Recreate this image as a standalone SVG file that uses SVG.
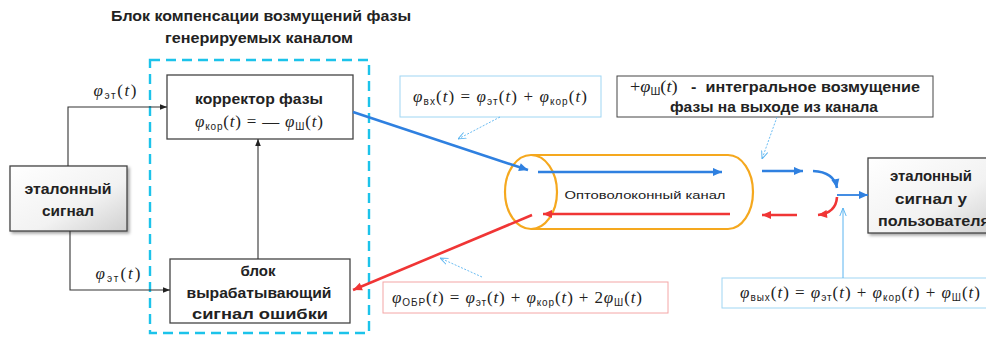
<svg xmlns="http://www.w3.org/2000/svg" width="986" height="338" viewBox="0 0 986 338">
<defs>
<linearGradient id="gg" x1="0" y1="0" x2="1" y2="1">
<stop offset="0" stop-color="#ffffff"/><stop offset="0.6" stop-color="#f2f2f2"/><stop offset="1" stop-color="#d0d0d0"/>
</linearGradient>
<filter id="sh" x="-10%" y="-10%" width="130%" height="140%"><feDropShadow dx="2" dy="2" stdDeviation="1.5" flood-color="#000" flood-opacity="0.35"/></filter>
<marker id="ak" viewBox="0 0 10 10" refX="10" refY="5" markerWidth="7" markerHeight="7" orient="auto" markerUnits="userSpaceOnUse"><path d="M0,1 L10,5 L0,9 Z" fill="#222"/></marker>
<marker id="ab" viewBox="0 0 10 10" refX="10" refY="5" markerWidth="10" markerHeight="9" orient="auto" markerUnits="userSpaceOnUse"><path d="M0,0.5 L10,5 L0,9.5 Z" fill="#2f80e0"/></marker>
<marker id="ar" viewBox="0 0 10 10" refX="10" refY="5" markerWidth="10" markerHeight="9" orient="auto" markerUnits="userSpaceOnUse"><path d="M0,0.5 L10,5 L0,9.5 Z" fill="#f03535"/></marker>
<marker id="ao" viewBox="0 0 10 10" refX="10" refY="5" markerWidth="8" markerHeight="8" orient="auto" markerUnits="userSpaceOnUse"><path d="M0,1 L10,5 L0,9" fill="none" stroke="#5ab4f0" stroke-width="1.2"/></marker>
</defs>
<style>
.t{font-family:"Liberation Sans",Arial,sans-serif;fill:#222}
.b{font-weight:bold}
.f{font-family:"Liberation Serif","Times New Roman",serif;font-size:17px;fill:#222}
.i{font-style:italic}
.s{font-size:10px;font-family:"Liberation Sans",Arial,sans-serif}
.box{fill:#fff;stroke:#444;stroke-width:1.3}
.gbox{fill:url(#gg);stroke:#444;stroke-width:1.3;filter:url(#sh)}
.ln{fill:none;stroke:#333;stroke-width:1.1}
.bl{fill:none;stroke:#2f80e0;stroke-width:2.6}
.rd{fill:none;stroke:#f03535;stroke-width:2.6}
.dt{fill:none;stroke:#5ab4f0;stroke-width:0.9;stroke-dasharray:2 1.5}
</style>

<g id="title">
<text class="t b" x="261" y="21" font-size="14" text-anchor="middle" textLength="300" lengthAdjust="spacingAndGlyphs" fill="#333">Блок компенсации возмущений фазы</text>
<text class="t b" x="259" y="43" font-size="14" text-anchor="middle" textLength="188" lengthAdjust="spacingAndGlyphs" fill="#333">генерируемых каналом</text>
</g>

<g id="compensation-block">
<rect x="150" y="60" width="219" height="273" fill="none" stroke="#1cc3ea" stroke-width="2.4" stroke-dasharray="10 6"/>
</g>

<g id="corrector">
<rect class="box" x="167" y="75" width="186" height="64"/>
<text class="t b" x="259" y="104" font-size="15" text-anchor="middle" textLength="128" lengthAdjust="spacingAndGlyphs">корректор фазы</text>
<text class="f" x="259" y="127" text-anchor="middle" textLength="128" lengthAdjust="spacing"><tspan class="i">φ</tspan><tspan class="s" dy="3">кор</tspan><tspan dy="-3">(</tspan><tspan class="i">t</tspan>) = — <tspan class="i">φ</tspan><tspan class="s" dy="3">Ш</tspan><tspan dy="-3">(</tspan><tspan class="i">t</tspan>)</text>
</g>

<g id="error-block">
<rect class="box" x="170" y="259" width="180" height="64"/>
<text class="t b" x="258" y="276" font-size="15" text-anchor="middle">блок</text>
<text class="t b" x="259" y="298" font-size="15" text-anchor="middle" textLength="145" lengthAdjust="spacingAndGlyphs">вырабатывающий</text>
<text class="t b" x="260" y="319" font-size="15" text-anchor="middle" textLength="136" lengthAdjust="spacingAndGlyphs">сигнал ошибки</text>
</g>

<g id="reference-signal">
<rect class="gbox" x="10" y="166" width="117" height="65"/>
<text class="t b" x="68" y="194" font-size="15" text-anchor="middle" textLength="87" lengthAdjust="spacingAndGlyphs">эталонный</text>
<text class="t b" x="68" y="216" font-size="15" text-anchor="middle" textLength="52" lengthAdjust="spacingAndGlyphs">сигнал</text>
</g>

<g id="user-signal">
<rect class="gbox" x="868" y="158" width="128" height="75"/>
<text class="t b" x="931" y="181" font-size="15" text-anchor="middle" textLength="82" lengthAdjust="spacingAndGlyphs">эталонный</text>
<text class="t b" x="931" y="204" font-size="15" text-anchor="middle" textLength="72" lengthAdjust="spacingAndGlyphs">сигнал у</text>
<text class="t b" x="878" y="226" font-size="15" textLength="112" lengthAdjust="spacingAndGlyphs">пользователя</text>
</g>

<g id="channel">
<path d="M531,155 L728,155 A25,37 0 0 1 728,229 L531,229" fill="none" stroke="#f5a81e" stroke-width="2.2"/>
<ellipse cx="531" cy="192" rx="26" ry="37" fill="none" stroke="#f5a81e" stroke-width="2.2"/>
<text class="t" x="645" y="199" font-size="11" text-anchor="middle" fill="#333" textLength="161" lengthAdjust="spacingAndGlyphs">Оптоволоконный канал</text>
</g>

<g id="formula-in">
<rect x="400" y="76" width="201" height="41" fill="#fff" stroke="#9fd6f3" stroke-width="1"/>
<text class="f" x="500" y="102" text-anchor="middle" textLength="174" lengthAdjust="spacing"><tspan class="i">φ</tspan><tspan class="s" dy="3">вх</tspan><tspan dy="-3">(</tspan><tspan class="i">t</tspan>) = <tspan class="i">φ</tspan><tspan class="s" dy="3">эт</tspan><tspan dy="-3">(</tspan><tspan class="i">t</tspan>) + <tspan class="i">φ</tspan><tspan class="s" dy="3">кор</tspan><tspan dy="-3">(</tspan><tspan class="i">t</tspan>)</text>
</g>

<g id="noise-note">
<rect x="617" y="76" width="316" height="41" fill="#fff" stroke="#444" stroke-width="1"/>
<text class="t b" x="775" y="92" font-size="15" text-anchor="middle" textLength="290" lengthAdjust="spacingAndGlyphs"><tspan class="f" style="font-weight:normal">+</tspan><tspan class="f i" style="font-weight:normal">φ</tspan><tspan class="s" dy="3" style="font-weight:normal">Ш</tspan><tspan class="f" dy="-3" style="font-weight:normal">(</tspan><tspan class="f i" style="font-weight:normal">t</tspan><tspan class="f" style="font-weight:normal">)</tspan>&#160;&#160;&#160;-&#160;&#160;интегральное возмущение</text>
<text class="t b" x="774" y="112" font-size="15" text-anchor="middle" textLength="208" lengthAdjust="spacingAndGlyphs">фазы на выходе из канала</text>
</g>

<g id="formula-back">
<rect x="383" y="282" width="285" height="31" fill="#fff" stroke="#f4a6a6" stroke-width="1"/>
<text class="f" x="517" y="303" text-anchor="middle" textLength="250" lengthAdjust="spacing"><tspan class="i">φ</tspan><tspan class="s" dy="3">ОБР</tspan><tspan dy="-3">(</tspan><tspan class="i">t</tspan>) = <tspan class="i">φ</tspan><tspan class="s" dy="3">эт</tspan><tspan dy="-3">(</tspan><tspan class="i">t</tspan>) + <tspan class="i">φ</tspan><tspan class="s" dy="3">кор</tspan><tspan dy="-3">(</tspan><tspan class="i">t</tspan>) + 2<tspan class="i">φ</tspan><tspan class="s" dy="3">Ш</tspan><tspan dy="-3">(</tspan><tspan class="i">t</tspan>)</text>
</g>

<g id="formula-out">
<rect x="722" y="278" width="274" height="30" fill="#fff" stroke="#9fd6f3" stroke-width="1"/>
<text class="f" x="860" y="298" text-anchor="middle" textLength="240" lengthAdjust="spacing"><tspan class="i">φ</tspan><tspan class="s" dy="3">вых</tspan><tspan dy="-3">(</tspan><tspan class="i">t</tspan>) = <tspan class="i">φ</tspan><tspan class="s" dy="3">эт</tspan><tspan dy="-3">(</tspan><tspan class="i">t</tspan>) + <tspan class="i">φ</tspan><tspan class="s" dy="3">кор</tspan><tspan dy="-3">(</tspan><tspan class="i">t</tspan>) + <tspan class="i">φ</tspan><tspan class="s" dy="3">Ш</tspan><tspan dy="-3">(</tspan><tspan class="i">t</tspan>)</text>
</g>

<g id="connectors">
<path class="ln" d="M68,166 L68,107 L167,107" marker-end="url(#ak)"/>
<path class="ln" d="M70,231 L70,290 L170,290" marker-end="url(#ak)"/>
<path class="ln" d="M258,259 L258,139" marker-end="url(#ak)"/>
<text class="f" x="115" y="96" text-anchor="middle" textLength="43" lengthAdjust="spacing"><tspan class="i">φ</tspan><tspan class="s" dy="3">эт</tspan><tspan dy="-3">(</tspan><tspan class="i">t</tspan>)</text>
<text class="f" x="118" y="279" text-anchor="middle" textLength="45" lengthAdjust="spacing"><tspan class="i">φ</tspan><tspan class="s" dy="3">эт</tspan><tspan dy="-3">(</tspan><tspan class="i">t</tspan>)</text>

<path class="bl" d="M353,112 L528,170" marker-end="url(#ab)"/>
<path class="bl" d="M538,172 L722,172" marker-end="url(#ab)"/>
<path class="bl" d="M762,171 L803,171" marker-end="url(#ab)"/>
<path class="bl" d="M813,171 Q834,172 837,188" marker-end="url(#ab)"/>
<path d="M837,195 L868,195" fill="none" stroke="#2f80e0" stroke-width="1.8" marker-end="url(#ab)"/>

<path class="rd" d="M837,197 Q836,213 818,215" marker-end="url(#ar)"/>
<path class="rd" d="M797,215 L762,215" marker-end="url(#ar)"/>
<path class="rd" d="M730,214 L543,214" marker-end="url(#ar)"/>
<path class="rd" d="M532,215 L353,290" marker-end="url(#ar)"/>

<path class="dt" d="M500,117 L458,139" marker-end="url(#ao)"/>
<path class="dt" d="M777,117 L762,159" marker-end="url(#ao)"/>
<path class="dt" d="M482,277 L440,258" marker-end="url(#ao)"/>
<path d="M843,278 L843,208" fill="none" stroke="#5ab4f0" stroke-width="1" marker-end="url(#ao)"/>
</g>
</svg>
